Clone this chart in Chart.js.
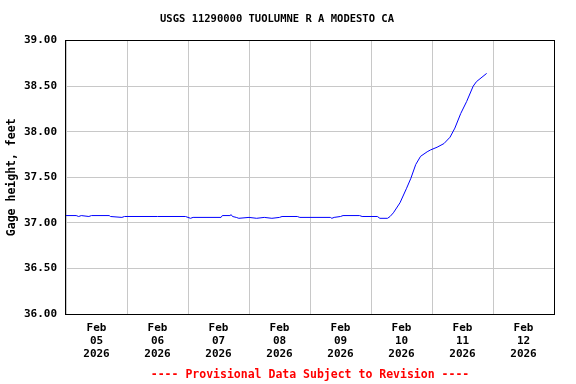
<!DOCTYPE html>
<html>
<head>
<meta charset="utf-8">
<script src="https://cdn.jsdelivr.net/npm/chart.js@4/dist/chart.umd.min.js"></script>
<style>
  html, body { margin: 0; padding: 0; background: #fff; }
  #wrap { width: 576px; height: 384px; }
</style>
</head>
<body>
<div id="wrap"><canvas id="gage" width="576" height="384"></canvas></div>
<script>
// hours since Feb 05 2026 00:00
const hours = [
  0, 4, 5, 6, 9, 10, 17, 17.5, 22, 23, 36, 47, 48, 49, 50, 61, 61.5, 64.5, 65, 65.5,
  67, 68, 72, 75, 78, 81, 84, 85, 91, 92, 104, 104.6, 105.5, 108, 109, 115.5, 116.5,
  122.5, 123.5, 126.5, 127.5, 128.8, 131.4, 134.0, 135.7, 137.6, 139.5, 142.1, 143.4,
  146.0, 148.7, 151.1, 153.0, 155.3, 157.6, 160.2, 161.5, 165.5
];
const gageHeight = [
  37.08, 37.08, 37.07, 37.08, 37.07, 37.08, 37.08, 37.07, 37.06, 37.07, 37.07, 37.07, 37.06, 37.05, 37.06, 37.06, 37.08, 37.08, 37.09, 37.07,
  37.06, 37.05, 37.06, 37.05, 37.06, 37.05, 37.06, 37.07, 37.07, 37.06, 37.06, 37.05, 37.06, 37.07, 37.08, 37.08, 37.07,
  37.07, 37.05, 37.05, 37.07, 37.11, 37.22, 37.38, 37.49, 37.64, 37.73, 37.78, 37.80,
  37.83, 37.87, 37.94, 38.04, 38.20, 38.33, 38.50, 38.55, 38.64
];
const dayLabels = [
  ['Feb', '05', '2026'], ['Feb', '06', '2026'], ['Feb', '07', '2026'], ['Feb', '08', '2026'],
  ['Feb', '09', '2026'], ['Feb', '10', '2026'], ['Feb', '11', '2026'], ['Feb', '12', '2026']
];

const mono = '"DejaVu Sans Mono", monospace';
const gridGray = '#c8c8c8';

const frame = {
  id: 'frame',
  afterDraw(chart) {
    const { ctx, chartArea: a } = chart;
    ctx.save();
    ctx.strokeStyle = '#000';
    ctx.lineWidth = 1;
    ctx.strokeRect(Math.round(a.left) - 0.5, Math.round(a.top) - 0.5,
      Math.round(a.right - a.left) + 1, Math.round(a.bottom - a.top) + 1);
    ctx.restore();
  }
};

new Chart(document.getElementById('gage'), {
  type: 'line',
  data: {
    datasets: [{
      data: hours.map((h, i) => ({ x: h, y: gageHeight[i] })),
      borderColor: '#0000ff',
      borderWidth: 1,
      pointRadius: 0,
      tension: 0,
      fill: false
    }]
  },
  options: {
    responsive: false,
    animation: false,
    layout: { padding: { left: 0, right: 22, top: 0, bottom: 0 } },
    plugins: {
      legend: { display: false },
      tooltip: { enabled: false },
      title: {
        display: true,
        text: 'USGS 11290000 TUOLUMNE R A MODESTO CA',
        color: '#000',
        font: { family: mono, size: 10.5, weight: 'bold' },
        padding: { top: 13, bottom: 15 }
      }
    },
    scales: {
      x: {
        type: 'linear',
        min: 0,
        max: 192,
        afterFit: s => { s.height = 70; },
        border: { display: false },
        grid: {
          drawTicks: false,
          color: c => (c.tick && c.tick.value % 24 === 0) ? gridGray : 'rgba(0,0,0,0)'
        },
        ticks: {
          stepSize: 12,
          autoSkip: false,
          maxRotation: 0,
          padding: 8,
          color: '#000',
          font: { family: mono, size: 11, weight: 'bold', lineHeight: 1.18 },
          callback: v => (v % 24 === 12) ? dayLabels[(v - 12) / 24] : ''
        },
        title: {
          display: true,
          text: '---- Provisional Data Subject to Revision ----',
          color: '#ff0000',
          font: { family: mono, size: 11.5, weight: 'bold' },
          padding: { top: 0, bottom: 2 }
        }
      },
      y: {
        min: 36,
        max: 39,
        afterFit: s => { s.width = 66; },
        border: { display: false },
        grid: { drawTicks: false, color: gridGray },
        ticks: {
          stepSize: 0.5,
          padding: 9,
          color: '#000',
          font: { family: mono, size: 11, weight: 'bold' },
          callback: v => v.toFixed(2)
        },
        title: {
          display: true,
          text: 'Gage height, feet',
          color: '#000',
          font: { family: mono, size: 11.5, weight: 'bold' },
          padding: { top: 5, bottom: 0 }
        }
      }
    }
  },
  plugins: [frame]
});
</script>
</body>
</html>
